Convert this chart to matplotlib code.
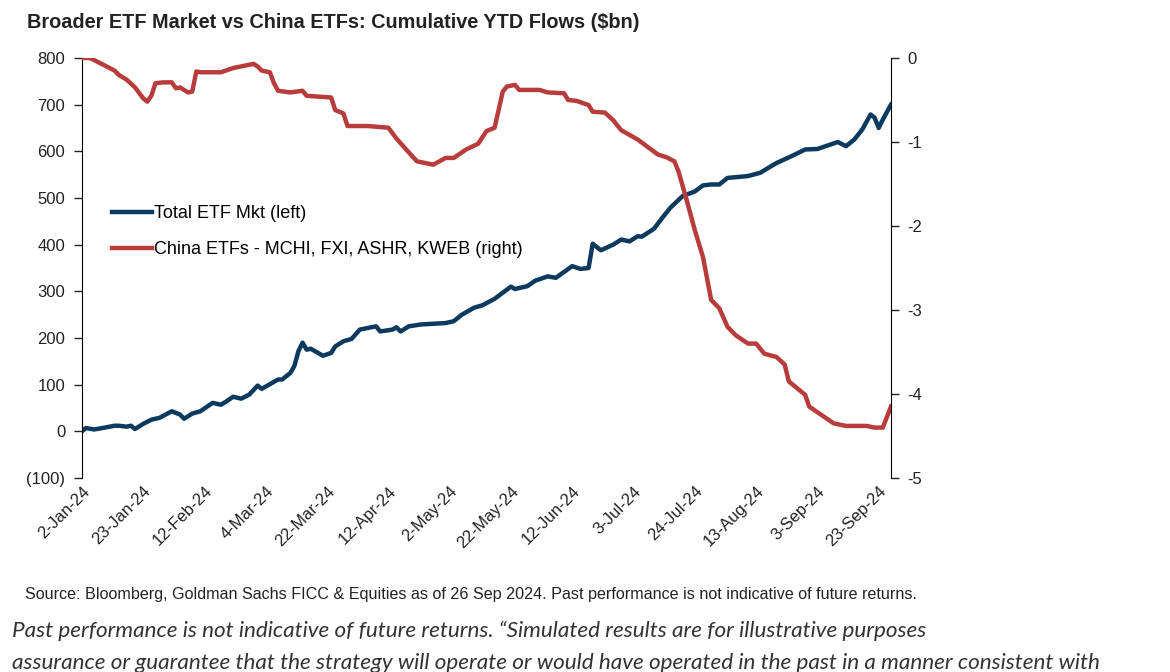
import matplotlib
matplotlib.use("Agg")
import matplotlib.pyplot as plt

plt.rcParams['font.family'] = ['Liberation Sans', 'DejaVu Sans']
plt.rcParams['axes.unicode_minus'] = False

# x = trading-day index from 2-Jan-24
etf_idx = [0, 1, 3, 5, 8, 9, 11, 12, 13, 15, 17, 19, 22, 24, 25, 27, 29, 32, 34, 35,
           37, 39, 41, 43, 44, 48, 49, 51, 52, 53, 54, 55, 56, 59, 61, 62, 64, 66, 68, 72,
           73, 76, 77, 78, 80, 83, 89, 91, 93, 96, 98, 101, 105, 106, 109, 111, 114, 116, 120, 122,
           124, 125, 127, 130, 132, 134, 136, 137, 140, 142, 144, 147, 150, 152, 154, 156, 158, 163, 166, 170,
           174, 177, 180, 185, 187, 189, 191, 193, 194, 195, 196, 198]
etf_flow = [0, 7, 4, 7, 12, 12, 10, 12, 5, 16, 25, 29, 43, 36, 27, 38, 43, 61, 57, 62,
            74, 70, 79, 98, 91, 111, 111, 125, 140, 172, 190, 175, 177, 162, 168, 182, 193, 198, 218, 225,
            214, 218, 223, 214, 225, 229, 232, 236, 250, 265, 270, 284, 310, 305, 311, 323, 332, 329, 354, 348,
            350, 402, 388, 400, 411, 407, 418, 417, 434, 457, 479, 504, 514, 527, 529, 529, 543, 547, 554, 575,
            591, 604, 605, 620, 611, 625, 647, 679, 672, 650, 668, 700]

china_idx = [0, 2, 4, 6, 8, 9, 11, 13, 15, 16, 17, 18, 20, 22, 23, 24, 26, 27, 28, 29,
             34, 37, 40, 42, 43, 44, 46, 47, 48, 51, 54, 55, 61, 62, 64, 65, 70, 75, 77, 79,
             82, 86, 89, 91, 94, 97, 99, 101, 103, 104, 106, 107, 112, 114, 118, 119, 121, 124, 125, 128,
             130, 132, 136, 141, 143, 145, 146, 148, 150, 152, 154, 156, 158, 160, 163, 165, 167, 170, 172, 173,
             177, 178, 181, 184, 187, 192, 194, 196, 198]
china_flow = [0.00, 0.00, -0.05, -0.10, -0.15, -0.20, -0.26, -0.35, -0.48, -0.52, -0.45, -0.30, -0.29, -0.29, -0.36, -0.35, -0.41, -0.40, -0.16, -0.17,
              -0.17, -0.12, -0.09, -0.07, -0.10, -0.15, -0.17, -0.30, -0.39, -0.41, -0.39, -0.45, -0.47, -0.62, -0.66, -0.81, -0.81, -0.83, -0.96, -1.07,
              -1.23, -1.27, -1.19, -1.19, -1.09, -1.02, -0.87, -0.83, -0.40, -0.34, -0.32, -0.38, -0.38, -0.41, -0.42, -0.50, -0.51, -0.56, -0.64, -0.65,
              -0.74, -0.86, -0.97, -1.15, -1.18, -1.23, -1.35, -1.69, -2.05, -2.37, -2.88, -2.98, -3.20, -3.30, -3.40, -3.40, -3.52, -3.56, -3.65, -3.85,
              -4.01, -4.15, -4.25, -4.35, -4.38, -4.38, -4.40, -4.40, -4.15]

tick_labels = ['2-Jan-24', '23-Jan-24', '12-Feb-24', '4-Mar-24', '22-Mar-24', '12-Apr-24', '2-May-24',
               '22-May-24', '12-Jun-24', '3-Jul-24', '24-Jul-24', '13-Aug-24', '3-Sep-24', '23-Sep-24']
left_ticks = [-100, 0, 100, 200, 300, 400, 500, 600, 700, 800]
left_labels = ['(100)', '0', '100', '200', '300', '400', '500', '600', '700', '800']
right_ticks = [-5, -4, -3, -2, -1, 0]

BLUE = '#0c3a5e'
RED = '#b83c3c'

fig = plt.figure(figsize=(11.7, 6.72), dpi=100)
ax = fig.add_axes([0.070, 0.2887, 0.6915, 0.625])
ax2 = ax.twinx()

l1, = ax.plot(etf_idx, etf_flow, color=BLUE, lw=3.2, solid_joinstyle='round',
              label='Total ETF Mkt (left)')
l2, = ax2.plot(china_idx, china_flow, color=RED, lw=3.2, solid_joinstyle='round',
               label='China ETFs - MCHI, FXI, ASHR, KWEB (right)')

ax.set_xlim(0, 198)
ax.set_ylim(-100, 800)
ax2.set_ylim(-5, 0)

ax.set_yticks(left_ticks, labels=left_labels)
ax2.set_yticks(right_ticks)
ax.set_xticks(range(0, 15 * len(tick_labels), 15), labels=tick_labels,
              rotation=45, ha='right', rotation_mode='anchor')

for a in (ax, ax2):
    a.spines['top'].set_visible(False)
    a.spines['bottom'].set_visible(False)
    a.tick_params(labelsize=12, colors='#222222', width=1.0, length=6)
ax.spines['right'].set_visible(False)
ax2.spines['left'].set_visible(False)
ax.tick_params(axis='x', length=0, pad=4)
ax.tick_params(axis='y', pad=6)
ax2.tick_params(axis='y', pad=6)

ax2.legend(handles=[l1, l2], loc='upper left', bbox_to_anchor=(0.037, 0.65),
           frameon=False, fontsize=13, handlelength=2.2, handletextpad=0.15,
           labelspacing=1.05, borderaxespad=0, borderpad=0)

fig.text(0.023, 0.967, 'Broader ETF Market vs China ETFs: Cumulative YTD Flows ($bn)',
         fontsize=14.3, fontweight='bold', color='#222222', va='center')
fig.text(0.021, 0.115, 'Source: Bloomberg, Goldman Sachs FICC & Equities as of 26 Sep 2024. '
         'Past performance is not indicative of future returns.',
         fontsize=11.6, color='#222222', va='center')
fig.text(0.010, 0.062, 'Past performance is not indicative of future returns. '
         '\u201cSimulated results are for illustrative purposes',
         fontsize=16.2, style='italic', family='Lato', color='#333333', va='center')
fig.text(0.010, 0.014, 'assurance or guarantee that the strategy will operate or would have '
         'operated in the past in a manner consistent with',
         fontsize=16.2, style='italic', family='Lato', color='#333333', va='center')

fig.savefig('out.png', dpi=100, facecolor='white')
